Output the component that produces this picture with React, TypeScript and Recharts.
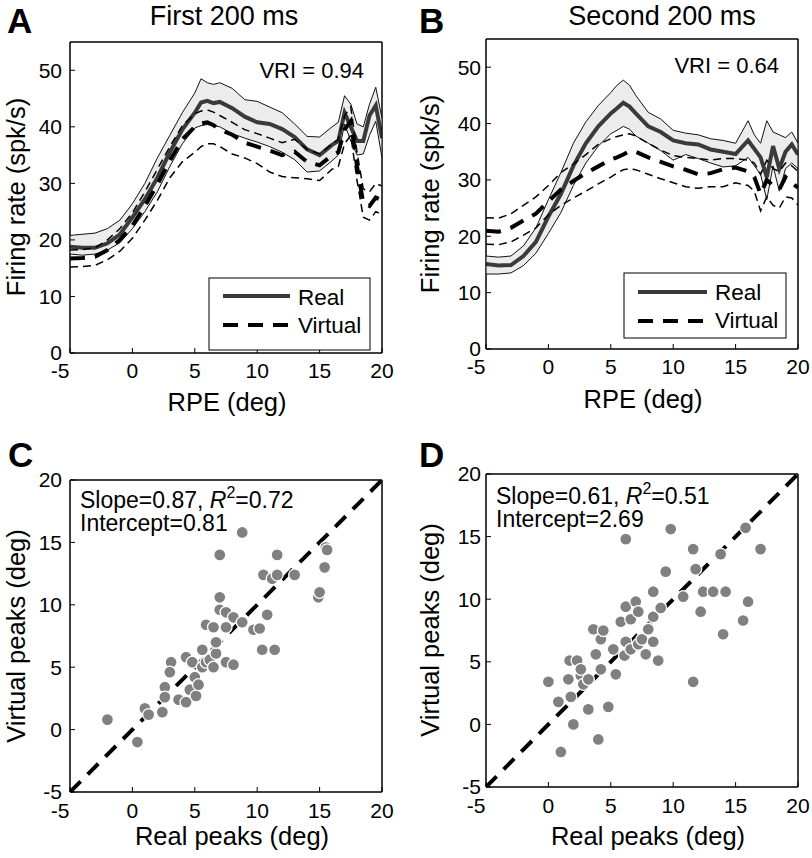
import { Area, ComposedChart, Line, ReferenceArea, Scatter, XAxis, YAxis } from "recharts";

const FONT = '"Liberation Sans", Arial, sans-serif';

// RPE grid (deg) shared by both rate panels
const rpe = [-5, -4, -3, -2, -1, 0, 1, 2, 3, 4, 5, 5.5, 6, 6.5, 7, 8, 9, 10, 11, 12, 13, 14, 15, 16, 16.5, 17, 17.5, 18, 18.5, 19, 19.5, 20];

// Panel A – first 200 ms (spk/s)
const realA = [18.8, 18.6, 18.6, 19.4, 21, 24, 27.2, 31, 35.5, 39.5, 42.5, 44.3, 44.6, 44.2, 44.4, 43.3, 41.8, 40.8, 40.5, 39.6, 38.2, 36, 35, 36.8, 37.5, 42.5, 40, 37.5, 37.5, 42, 43.8, 38];
const realHiA = [20.8, 21, 21.2, 22, 23.5, 26.4, 30, 34.5, 38.5, 42.5, 46, 48.5, 47.8, 47.5, 47.8, 46.8, 44.8, 44.5, 43.5, 42.5, 40.5, 38.3, 38.2, 40, 40.8, 45.5, 44, 40.5, 40, 44, 47, 41.5];
const realLoA = [17.5, 17.3, 17.5, 18.2, 19.5, 22, 25, 28.5, 33, 37, 39.8, 40.2, 40.4, 40.2, 40, 38.8, 38, 37.3, 36.5, 35.5, 34.2, 32, 32.2, 34, 35, 40.5, 37.5, 35, 35.2, 38.5, 41, 34.5];
const virtA = [16.7, 16.8, 17, 18.2, 20, 22.5, 26, 29.8, 34, 37.8, 40, 40.6, 40.8, 40.3, 39.5, 38.6, 37.2, 36.5, 35.8, 35, 35.6, 33.8, 33.2, 35, 35.5, 39.5, 41, 33, 26.5, 26, 27.5, 27];
const virtHiA = [18.2, 18.3, 18.6, 20, 22, 24.8, 28.5, 32.5, 36.5, 40.2, 42.3, 42.8, 43, 42.6, 42, 40.8, 39.5, 38.8, 38, 37.2, 37.8, 36, 35.2, 37, 37.8, 42, 43.5, 35.5, 29, 28.5, 30, 29.5];
const virtLoA = [15.2, 15.3, 15.5, 16.5, 18, 20.3, 23.5, 27, 31, 33.8, 35.5, 36.5, 37, 37, 36.5, 35.2, 34.5, 33.5, 32, 31.2, 31, 30.8, 30.5, 32.5, 33, 37, 38.5, 30.5, 24, 23.5, 25, 24.5];

// Panel B – second 200 ms (spk/s)
const realB = [15.1, 14.8, 14.9, 16.5, 19, 23.5, 27.5, 32.5, 36.5, 39.5, 41.8, 42.7, 43.7, 43, 41.8, 39.5, 38.5, 37, 36.5, 36.3, 35.4, 35, 34.6, 37, 35.5, 34, 30.5, 36, 32, 35, 36.3, 34.5];
const realHiB = [16.5, 16.3, 16.5, 18.3, 21.5, 26.5, 31.3, 36.5, 40.3, 43.2, 45.5, 46.8, 47.7, 46.8, 45, 42, 40.8, 38.8, 38.3, 38, 37.3, 37, 36.5, 40.5, 38, 36.5, 40.5, 38.5, 38, 37.5, 38.5, 36.5];
const realLoB = [13.3, 13.3, 13.5, 14.8, 17, 20.5, 24.2, 29, 33, 36, 38.2, 38.8, 39.5, 39, 37.8, 36.5, 35.2, 33.5, 34.5, 33.8, 33, 32.3, 32.5, 34, 32.5, 31, 26.5, 32.5, 28, 32, 33, 32];
const virtB = [21, 20.8, 21.5, 22.8, 24, 26.2, 28.3, 29.8, 31.2, 32.4, 33.6, 34, 34.5, 35.1, 35, 34, 33.2, 32.4, 31.8, 31, 31.2, 31.9, 32.2, 31.5, 30.5, 27.5, 30, 29, 28.3, 30.5, 29.5, 28.6];
const virtHiB = [23.3, 23.2, 24, 25.5, 27, 29, 31.3, 32.8, 34.5, 36.3, 37.3, 37.7, 38, 38.2, 37.8, 36.5, 35.3, 34.3, 34, 33.8, 33.5, 33.8, 33.8, 33.5, 33, 31, 33.5, 32, 31.5, 33, 32.5, 31.5];
const virtLoB = [18.6, 18.5, 19, 20.2, 21.5, 23.8, 25.5, 26.8, 28, 29.3, 30.5, 31.2, 31.8, 32, 31.8, 31, 30.2, 29.5, 28.8, 28.5, 28.8, 28.8, 29.5, 29, 28, 24.5, 27, 25.5, 25, 27, 26.8, 25.5];

// Panel C – peak positions (deg)
const realPeaksC = [-2.0, 0.4, 1.0, 1.3, 2.4, 2.6, 2.6, 3.1, 3.0, 3.7, 4.3, 4.3, 4.8, 4.6, 5.1, 5.0, 5.3, 5.6, 5.6, 5.9, 6.2, 6.5, 6.7, 6.7, 5.9, 6.5, 7.0, 7.0, 7.0, 7.5, 7.5, 8.1, 7.5, 8.1, 8.8, 8.8, 9.7, 10.2, 10.4, 11.4, 10.8, 10.5, 11.2, 11.6, 11.6, 13.0, 14.9, 15.0, 15.4, 15.5, 15.6];
const virtPeaksC = [0.8, -1.0, 1.7, 1.2, 1.4, 3.4, 2.6, 5.4, 4.6, 2.4, 2.2, 5.8, 5.4, 3.2, 2.7, 4.2, 3.6, 5.0, 6.4, 5.4, 5.6, 5.0, 6.1, 7.0, 8.4, 8.2, 9.6, 10.6, 14.0, 9.4, 8.2, 9.0, 5.4, 5.2, 8.6, 15.8, 8.0, 8.1, 6.4, 6.4, 9.2, 12.4, 12.1, 12.4, 14.0, 12.4, 10.6, 11.0, 13.0, 14.6, 14.4];

// Panel D
const realPeaksD = [0, 0.8, 1.0, 1.6, 1.7, 1.8, 2.0, 2.3, 2.6, 2.8, 2.6, 3.2, 3.2, 3.6, 3.8, 4.0, 4.2, 4.2, 4.4, 4.8, 5.2, 5.4, 5.8, 6.1, 6.2, 6.2, 6.2, 6.6, 6.6, 7.0, 7.2, 7.2, 7.5, 7.8, 8.0, 8.4, 8.4, 8.4, 8.8, 9.0, 9.4, 9.8, 10.8, 11.6, 11.6, 11.8, 12.2, 12.4, 13.2, 13.8, 14.0, 14.2, 15.6, 15.8, 16.0, 17.0];
const virtPeaksD = [3.4, 1.8, -2.2, 3.6, 5.1, 2.2, 0, 5.1, 3.9, 3.2, 4.4, 3.6, 1.2, 7.6, 5.6, -1.2, 4.4, 6.8, 7.5, 1.4, 6.0, 4.0, 8.2, 5.5, 14.8, 9.4, 6.6, 6.0, 8.4, 9.8, 9.0, 6.4, 6.8, 5.6, 7.6, 8.6, 10.6, 6.6, 5.1, 9.3, 12.2, 15.6, 10.2, 3.4, 14.0, 12.4, 9.0, 10.6, 10.6, 13.6, 7.2, 10.6, 8.3, 15.7, 9.8, 14.0];

const xTicks = [-5, 0, 5, 10, 15, 20];
const rateTicks = [0, 10, 20, 30, 40, 50];
const peakTicks = [-5, 0, 5, 10, 15, 20];
const unity = [{ x: -5, y: -5 }, { x: 20, y: 20 }];

const W = 406;
const H = 429;
const THICK_DASH = "15 10";
const AXIS = { stroke: "#000", strokeWidth: 1 };

function rateRows(real: number[], hi: number[], lo: number[], v: number[], vHi: number[], vLo: number[]) {
  return rpe.map((x, i) => ({ x, real: real[i], band: [lo[i], hi[i]], virt: v[i], vHi: vHi[i], vLo: vLo[i] }));
}

function peakRows(xs: number[], ys: number[]) {
  return xs.map((x, i) => ({ x, y: ys[i] }));
}

// negative labels sit left of the tick, like the original
const XTick = (props: any) => {
  const v = props.payload.value;
  return (
    <text x={props.x + (v < 0 ? -10 : 0)} y={props.y} dy="0.72em" textAnchor="middle" fontSize={21} fill="#000">
      {v}
    </text>
  );
};

const Dot = (p: any) => <circle cx={p.cx} cy={p.cy} r={6} fill="#808080" stroke="#fff" strokeWidth={1.3} />;

type M = { top: number; right: number; bottom: number; left: number };

function RateChart({ rows, margin, yw, yMargin }: { rows: any[]; margin: M; yw: number; yMargin: number }) {
  return (
    <ComposedChart width={W} height={H} data={rows} margin={margin} style={{ fontFamily: FONT }}>
      <XAxis dataKey="x" type="number" domain={[-5, 20]} ticks={xTicks} interval={0} allowDataOverflow
        tickSize={-5} tickMargin={15} tick={XTick} axisLine={AXIS} tickLine={AXIS} height={30} />
      <XAxis xAxisId="top" orientation="top" type="number" domain={[-5, 20]} ticks={xTicks} interval={0}
        tickSize={-5} tick={false} axisLine={AXIS} tickLine={AXIS} height={1} />
      <YAxis type="number" domain={[0, 55]} ticks={rateTicks} interval={0} allowDataOverflow
        tickSize={-5} tickMargin={yMargin} width={yw} axisLine={AXIS} tickLine={AXIS}
        tick={{ fontSize: 21, fill: "#000" }} />
      <YAxis yAxisId="right" orientation="right" type="number" domain={[0, 55]} ticks={rateTicks} interval={0}
        tickSize={-5} tick={false} width={1} axisLine={AXIS} tickLine={AXIS} />
      <ReferenceArea x1={-5} x2={20} y1={0} y2={55} fill="none" stroke="#000" strokeWidth={1} ifOverflow="visible" />
      <Area dataKey="band" type="linear" fill="#ececec" fillOpacity={1} stroke="#111" strokeWidth={1}
        isAnimationActive={false} dot={false} activeDot={false} />
      <Line dataKey="real" type="linear" stroke="#3a3a3a" strokeWidth={4} dot={false} isAnimationActive={false} />
      <Line dataKey="vHi" type="linear" stroke="#000" strokeWidth={1.5} strokeDasharray="8 5" dot={false} isAnimationActive={false} />
      <Line dataKey="vLo" type="linear" stroke="#000" strokeWidth={1.5} strokeDasharray="8 5" dot={false} isAnimationActive={false} />
      <Line dataKey="virt" type="linear" stroke="#000" strokeWidth={4} strokeDasharray={THICK_DASH} dot={false} isAnimationActive={false} />
    </ComposedChart>
  );
}

function PeakChart({ rows, margin, yw, yMargin }: { rows: any[]; margin: M; yw: number; yMargin: number }) {
  return (
    <ComposedChart width={W} height={H} margin={margin} style={{ fontFamily: FONT }}>
      <XAxis dataKey="x" type="number" domain={[-5, 20]} ticks={peakTicks} interval={0} allowDataOverflow
        tickSize={-5} tickMargin={16} tick={XTick} axisLine={AXIS} tickLine={AXIS} height={30} />
      <XAxis xAxisId="top" orientation="top" type="number" domain={[-5, 20]} ticks={peakTicks} interval={0}
        tickSize={-5} tick={false} axisLine={AXIS} tickLine={AXIS} height={1} />
      <YAxis dataKey="y" type="number" domain={[-5, 20]} ticks={peakTicks} interval={0} allowDataOverflow
        tickSize={-5} tickMargin={yMargin} width={yw} axisLine={AXIS} tickLine={AXIS}
        tick={{ fontSize: 21, fill: "#000" }} />
      <YAxis yAxisId="right" orientation="right" type="number" domain={[-5, 20]} ticks={peakTicks} interval={0}
        tickSize={-5} tick={false} width={1} axisLine={AXIS} tickLine={AXIS} />
      <ReferenceArea x1={-5} x2={20} y1={-5} y2={20} fill="none" stroke="#000" strokeWidth={1} ifOverflow="visible" />
      <Scatter data={unity} line={{ stroke: "#000", strokeWidth: 4, strokeDasharray: THICK_DASH }}
        shape={() => <g />} isAnimationActive={false} />
      <Scatter data={rows} shape={Dot} isAnimationActive={false} />
    </ComposedChart>
  );
}

function LegendBox({ x, y, w, h, lx1, lx2, y1, y2, tx, b1, b2 }: any) {
  return (
    <g>
      <rect x={x} y={y} width={w} height={h} fill="#fff" stroke="#000" strokeWidth={1} />
      <line x1={lx1} x2={lx2} y1={y1} y2={y1} stroke="#3a3a3a" strokeWidth={4} />
      <line x1={lx1} x2={lx2} y1={y2} y2={y2} stroke="#000" strokeWidth={4} strokeDasharray={THICK_DASH} />
      <text x={tx} y={b1} fontSize={22.5}>Real</text>
      <text x={tx} y={b2} fontSize={22.5}>Virtual</text>
    </g>
  );
}

function FitText({ x, y1, y2, slope, r2, icpt }: any) {
  return (
    <g fontSize={23}>
      <text x={x} y={y1}>
        Slope={slope}, <tspan fontStyle="italic">R</tspan>
        <tspan dy={-10} fontSize={16}>2</tspan>
        <tspan dy={10}>={r2}</tspan>
      </text>
      <text x={x} y={y2}>Intercept={icpt}</text>
    </g>
  );
}

export default function App() {
  const rowsA = rateRows(realA, realHiA, realLoA, virtA, virtHiA, virtLoA);
  const rowsB = rateRows(realB, realHiB, realLoB, virtB, virtHiB, virtLoB);
  const rowsC = peakRows(realPeaksC, virtPeaksC);
  const rowsD = peakRows(realPeaksD, virtPeaksD);
  const pos = (l: number, t: number) => ({ position: "absolute" as const, left: l, top: t });

  return (
    <div style={{ position: "absolute", left: 0, top: 0, width: 812, height: 858, background: "#fff", fontFamily: FONT }}>
      <div style={pos(0, 0)}>
        <RateChart rows={rowsA} margin={{ top: 41, right: 23, bottom: 46, left: 0 }} yw={70} yMargin={13} />
      </div>
      <div style={pos(406, 0)}>
        <RateChart rows={rowsB} margin={{ top: 38, right: 13, bottom: 50, left: 0 }} yw={80} yMargin={10} />
      </div>
      <div style={pos(0, 429)}>
        <PeakChart rows={rowsC} margin={{ top: 50, right: 23, bottom: 36, left: 0 }} yw={70} yMargin={13} />
      </div>
      <div style={pos(406, 429)}>
        <PeakChart rows={rowsD} margin={{ top: 44, right: 13, bottom: 41, left: 0 }} yw={80} yMargin={10} />
      </div>

      <svg width={812} height={858} style={{ position: "absolute", left: 0, top: 0, pointerEvents: "none", fontFamily: FONT }}>
        <g fontSize={35} fontWeight="bold">
          <text x={7} y={33}>A</text>
          <text x={419} y={33}>B</text>
          <text x={8} y={467}>C</text>
          <text x={419} y={467}>D</text>
        </g>
        <g fontSize={27} textAnchor="middle">
          <text x={224} y={25}>First 200 ms</text>
          <text x={662} y={25}>Second 200 ms</text>
        </g>
        <g fontSize={25.5} textAnchor="middle">
          <text x={227} y={411}>RPE (deg)</text>
          <text x={643} y={408}>RPE (deg)</text>
          <text x={232} y={845}>Real peaks (deg)</text>
          <text x={648} y={845}>Real peaks (deg)</text>
          <text transform="translate(25,197) rotate(-90)">Firing rate (spk/s)</text>
          <text transform="translate(439,194) rotate(-90)">Firing rate (spk/s)</text>
          <text transform="translate(25,636) rotate(-90)">Virtual peaks (deg)</text>
          <text transform="translate(439,630) rotate(-90)">Virtual peaks (deg)</text>
        </g>
        <g fontSize={22} textAnchor="end">
          <text x={364} y={78}>VRI = 0.94</text>
          <text x={779} y={73}>VRI = 0.64</text>
        </g>
        <LegendBox x={209} y={278} w={161} h={72} lx1={223} lx2={290} y1={296} y2={325} tx={298} b1={305} b2={333} />
        <LegendBox x={624} y={273} w={162} h={65} lx1={638} lx2={707} y1={292} y2={321} tx={715} b1={300} b2={328} />
        <FitText x={80} y1={508} y2={531} slope="0.87" r2="0.72" icpt="0.81" />
        <FitText x={496} y1={504} y2={527} slope="0.61" r2="0.51" icpt="2.69" />
      </svg>
    </div>
  );
}
